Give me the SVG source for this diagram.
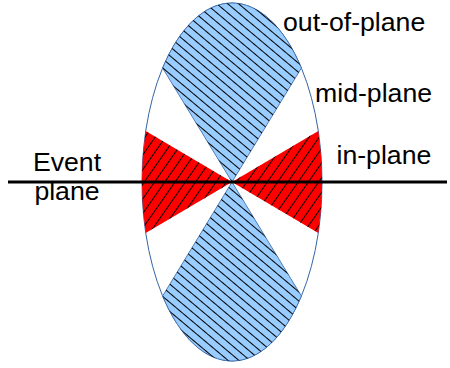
<svg xmlns="http://www.w3.org/2000/svg" width="450" height="368" viewBox="0 0 450 368">
<style>
.lbl{font-family:"Liberation Sans",Arial,sans-serif;font-size:26.67px;fill:#000}
.blue{fill:#99ccff;stroke:#3465a4;stroke-width:0.8}
.red{fill:#ff0000;stroke:none}
</style>
<defs>
<pattern id="hb" patternUnits="userSpaceOnUse" width="10" height="7" patternTransform="rotate(40)">
<line x1="0" y1="3.5" x2="10" y2="3.5" stroke="#000" stroke-width="1"/>
</pattern>
<pattern id="hr" patternUnits="userSpaceOnUse" width="10" height="8.4" patternTransform="rotate(-55)">
<line x1="0" y1="4.2" x2="10" y2="4.2" stroke="#000" stroke-width="1"/>
</pattern>
</defs>
<g id="ellipse">
<ellipse cx="232" cy="182" rx="90" ry="179" fill="#fff" stroke="#3465a4" stroke-width="1"/>
</g>
<g id="out-of-plane-top">
<path class="blue" d="M232,182 L162.6,68 A90,179 0 0,1 301.4,68 Z"/>
<path fill="url(#hb)" d="M232,182 L162.6,68 A90,179 0 0,1 301.4,68 Z"/>
</g>
<g id="out-of-plane-bottom">
<path class="blue" d="M232,182 L301.4,296 A90,179 0 0,1 162.6,296 Z"/>
<path fill="url(#hb)" d="M232,182 L301.4,296 A90,179 0 0,1 162.6,296 Z"/>
</g>
<g id="in-plane-left">
<path class="red" d="M232,182 L145.7,131 A90,179 0 0,0 145.7,233 Z"/>
<path fill="url(#hr)" d="M232,182 L145.7,131 A90,179 0 0,0 145.7,233 Z"/>
</g>
<g id="in-plane-right">
<path class="red" d="M232,182 L318.3,131 A90,179 0 0,1 318.3,233 Z"/>
<path fill="url(#hr)" d="M232,182 L318.3,131 A90,179 0 0,1 318.3,233 Z"/>
</g>
<g id="connectors">
<line x1="8" y1="182" x2="447" y2="182" stroke="#000" stroke-width="3"/>
</g>
<g id="labels">
<text class="lbl" x="283" y="30.5">out-of-plane</text>
<text class="lbl" x="315" y="101.7">mid-plane</text>
<text class="lbl" x="336.5" y="164">in-plane</text>
<text class="lbl" x="67" y="171" text-anchor="middle">Event</text>
<text class="lbl" x="67" y="200" text-anchor="middle">plane</text>
</g>
</svg>
